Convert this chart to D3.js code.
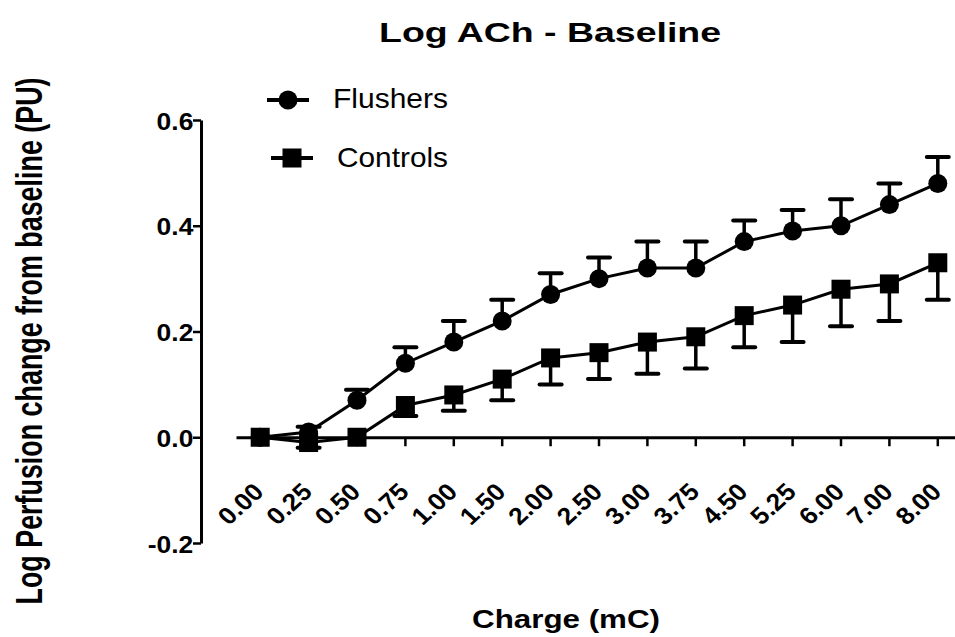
<!DOCTYPE html>
<html>
<head>
<meta charset="utf-8">
<script src="https://cdn.jsdelivr.net/npm/d3@7"></script>
<style>
    body { margin: 0; background: #fff; }
    text { font-family: "Liberation Sans", Arial, sans-serif; fill: #000; }
</style>
</head>
<body>
<svg id="svg_main"></svg>
<script>
// charge steps (x categories)
const charges = ['0.00', '0.25', '0.50', '0.75', '1.00', '1.50', '2.00', '2.50', '3.00', '3.75', '4.50', '5.25', '6.00', '7.00', '8.00'];
// mean log perfusion change + SEM
const flushers = [0, 0.01, 0.07, 0.14, 0.18, 0.22, 0.27, 0.30, 0.32, 0.32, 0.37, 0.39, 0.40, 0.44, 0.48];
const flushersErr = [0, 0.01, 0.02, 0.03, 0.04, 0.04, 0.04, 0.04, 0.05, 0.05, 0.04, 0.04, 0.05, 0.04, 0.05];
const controls = [0, -0.01, 0.00, 0.06, 0.08, 0.11, 0.15, 0.16, 0.18, 0.19, 0.23, 0.25, 0.28, 0.29, 0.33];
const controlsErr = [0, 0.01, 0, 0.02, 0.03, 0.04, 0.05, 0.05, 0.06, 0.06, 0.06, 0.07, 0.07, 0.07, 0.07];
const yTicks = [-0.2, 0.0, 0.2, 0.4, 0.6];
const seriesNames = ['Flushers', 'Controls'];

const width = 955, height = 637;
const FONT = '"Liberation Sans", Arial, sans-serif';

const svg = d3.select('#svg_main')
    .attr('width', width)
    .attr('height', height);

const x = d3.scaleBand().domain(charges).range([236, 962]);
const y = d3.scaleLinear().domain([-0.2, 0.6]).range([543, 120]);
const cx = d => x(d) + x.bandwidth() / 2;

// title
svg.append('text')
    .attr('x', 550).attr('y', 42)
    .attr('text-anchor', 'middle')
    .attr('font-size', 28.5).attr('font-weight', 'bold')
    .attr('textLength', 342).attr('lengthAdjust', 'spacingAndGlyphs')
    .text('Log ACh - Baseline');

// y axis
const yAxis = svg.append('g')
    .attr('transform', 'translate(201,0)')
    .call(d3.axisLeft(y).tickValues(yTicks).tickFormat(d => d.toFixed(1)).tickSize(8).tickSizeOuter(0));
yAxis.select('.domain').attr('stroke-width', 3);
yAxis.selectAll('.tick line').attr('stroke-width', 2.5);
yAxis.selectAll('.tick text')
    .attr('font-size', 24).attr('font-weight', 'bold')
    .attr('font-family', FONT)
    .attr('x', -7).attr('dy', '0.38em')
    .attr('transform', 'scale(1.1,1)');

// x axis sits on y = 0
const xAxis = svg.append('g')
    .attr('transform', `translate(0,${y(0)})`)
    .call(d3.axisBottom(x).tickSize(9).tickSizeOuter(0));
xAxis.select('.domain').attr('stroke-width', 3);
xAxis.selectAll('.tick line').attr('stroke-width', 2.5);
xAxis.selectAll('.tick text')
    .attr('font-size', 24).attr('font-weight', 'bold')
    .attr('font-family', FONT)
    .attr('text-anchor', 'end')
    .attr('x', 0).attr('y', 0).attr('dy', 0)
    .attr('transform', 'translate(5,56) scale(1.1,1) rotate(-45)');

// axis titles
svg.append('text')
    .attr('transform', 'translate(42,341) scale(1.37,1) rotate(-90)')
    .attr('text-anchor', 'middle')
    .attr('font-size', 27).attr('font-weight', 'bold')
    .attr('textLength', 527).attr('lengthAdjust', 'spacingAndGlyphs')
    .text('Log Perfusion change from baseline (PU)');

svg.append('text')
    .attr('x', 566).attr('y', 628)
    .attr('text-anchor', 'middle')
    .attr('font-size', 25).attr('font-weight', 'bold')
    .attr('textLength', 188).attr('lengthAdjust', 'spacingAndGlyphs')
    .text('Charge (mC)');

function drawSeries(values, errs, dir, marker) {
    const g = svg.append('g');
    const pts = charges.map((c, i) => ({c, v: values[i], e: errs[i]}));

    // error bars (one-sided: flushers up, controls down)
    const eb = g.append('g').attr('stroke', 'black');
    eb.selectAll('line.bar')
        .data(pts.filter(d => d.e > 0))
        .join('line')
        .attr('class', 'bar')
        .attr('stroke-width', 3.5)
        .attr('x1', d => cx(d.c)).attr('x2', d => cx(d.c))
        .attr('y1', d => y(d.v))
        .attr('y2', d => y(d.v + dir * d.e));
    eb.selectAll('line.cap')
        .data(pts.filter(d => d.e > 0))
        .join('line')
        .attr('class', 'cap')
        .attr('stroke-width', 4)
        .attr('stroke-linecap', 'round')
        .attr('x1', d => cx(d.c) - 11).attr('x2', d => cx(d.c) + 11)
        .attr('y1', d => y(d.v + dir * d.e))
        .attr('y2', d => y(d.v + dir * d.e));

    g.append('path')
        .datum(pts)
        .attr('fill', 'none')
        .attr('stroke', 'black')
        .attr('stroke-width', 3)
        .attr('d', d3.line().x(d => cx(d.c)).y(d => y(d.v)));

    if (marker === 'circle') {
        g.selectAll('circle')
            .data(pts)
            .join('circle')
            .attr('cx', d => cx(d.c)).attr('cy', d => y(d.v))
            .attr('r', 9.5);
    } else {
        g.selectAll('rect')
            .data(pts)
            .join('rect')
            .attr('x', d => cx(d.c) - 9.5).attr('y', d => y(d.v) - 9.5)
            .attr('width', 19).attr('height', 19);
    }
}

drawSeries(controls, controlsErr, -1, 'square');
drawSeries(flushers, flushersErr, 1, 'circle');

// legend
const legend = svg.append('g');
const legendRows = [
    {name: seriesNames[0], marker: 'circle', lx: 267, ly: 100, tx: 333, ty: 108, tl: 115},
    {name: seriesNames[1], marker: 'square', lx: 271, ly: 158, tx: 337, ty: 167, tl: 111}
];
legendRows.forEach(r => {
    legend.append('line')
        .attr('x1', r.lx).attr('x2', r.lx + 42)
        .attr('y1', r.ly).attr('y2', r.ly)
        .attr('stroke', 'black').attr('stroke-width', 4);
    if (r.marker === 'circle') {
        legend.append('circle').attr('cx', r.lx + 21).attr('cy', r.ly).attr('r', 9.5);
    } else {
        legend.append('rect').attr('x', r.lx + 11.5).attr('y', r.ly - 9.5).attr('width', 19).attr('height', 19);
    }
    legend.append('text')
        .attr('x', r.tx).attr('y', r.ty)
        .attr('font-size', 28)
        .attr('textLength', r.tl).attr('lengthAdjust', 'spacingAndGlyphs')
        .text(r.name);
});
</script>
</body>
</html>
